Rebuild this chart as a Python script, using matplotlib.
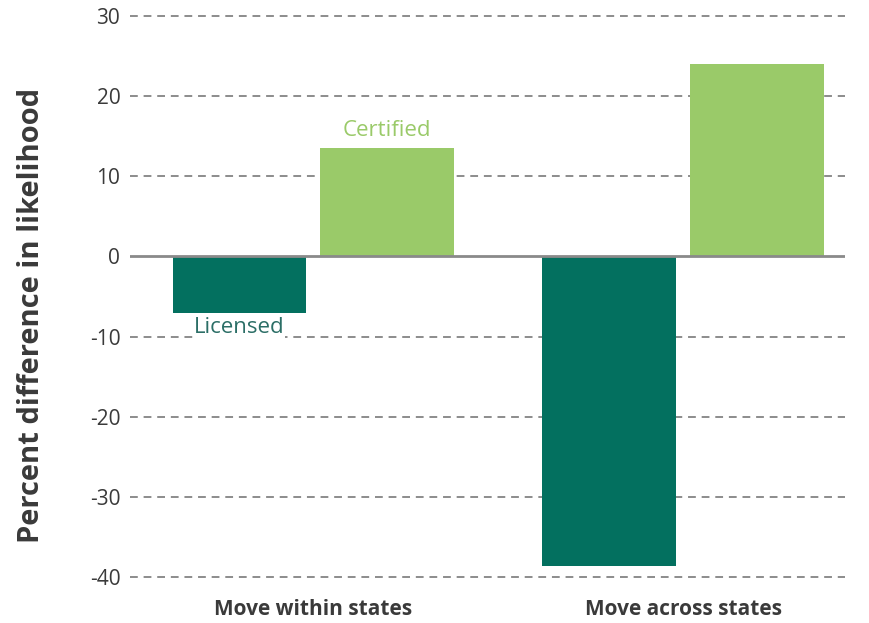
import numpy as np
import matplotlib.pyplot as plt

# Percent difference in likelihood of moving, by credential type
groups = ["Move within states", "Move across states"]
licensed = [-7.0, -38.6]
certified = [13.5, 24.0]
yticks = [-40, -30, -20, -10, 0, 10, 20, 30]

dark = "#03705f"
light = "#9aca69"
grid_col = "#8c8c8c"
text_col = "#3a3a3a"

plt.rcParams["font.family"] = ["Open Sans", "DejaVu Sans"]

fig = plt.figure(figsize=(8.69, 6.23), dpi=100)
ax = fig.add_axes([0.1496, 0.061, 0.8228, 0.926])

x = np.arange(len(groups))
w = 0.362
off = 0.199

for y in yticks:
    if y == 0:
        continue
    ax.axhline(y, color=grid_col, linestyle=(0, (4, 3)), linewidth=1.4, zorder=1)
ax.axhline(0, color="#8a8a8a", linewidth=2, zorder=3)

ax.bar(x - off, licensed, width=w, color=dark, zorder=2)
ax.bar(x + off, certified, width=w, color=light, zorder=2)

ax.text(x[0] + off, certified[0] + 0.9, "Certified", color=light,
        ha="center", va="bottom", fontsize=16)
ax.text(x[0] - off, licensed[0] - 0.6, "Licensed", color="#2b6e66",
        ha="center", va="top", fontsize=16,
        bbox=dict(facecolor="white", edgecolor="none", pad=0.5))

ax.set_xlim(-0.495, 1.438)
ax.set_ylim(-41, 31)
ax.set_yticks(yticks)
ax.set_yticklabels([str(v) for v in yticks])
ax.set_xticks(x)
ax.set_xticklabels(groups, fontsize=15, fontweight="bold", color=text_col)
ax.tick_params(axis="y", length=0, pad=7, labelsize=15, labelcolor=text_col)
ax.tick_params(axis="x", length=0, pad=10)
for s in ax.spines.values():
    s.set_visible(False)

ax.set_ylabel("Percent difference in likelihood", fontsize=21,
              fontweight="bold", color=text_col)
ax.yaxis.set_label_coords(-0.118, 0.468)

fig.savefig("out.png", dpi=100)
